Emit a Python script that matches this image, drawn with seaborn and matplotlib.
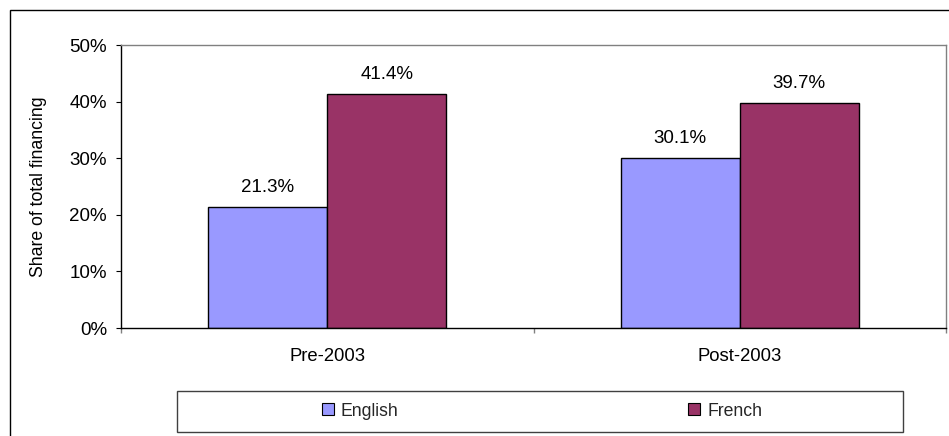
import matplotlib
matplotlib.use("Agg")
import matplotlib.pyplot as plt
from matplotlib.patches import Rectangle, Patch
from matplotlib.ticker import FuncFormatter, FixedLocator
import seaborn as sns
import pandas as pd

# Data
periods = ["Pre-2003", "Post-2003"]
origins = ["English", "French"]
english_share = [21.3, 30.1]
french_share = [41.4, 39.7]
colors = {"English": "#9999FF", "French": "#993366"}

df = pd.DataFrame({
    "period": periods * 2,
    "origin": ["English"] * len(periods) + ["French"] * len(periods),
    "share": english_share + french_share,
})

sns.set_theme(style="white")
plt.rcParams["font.family"] = ["Liberation Sans", "DejaVu Sans"]

fig = plt.figure(figsize=(9.49, 4.36), dpi=100)
ax = fig.add_axes([121 / 949, 1 - 328 / 436, (946 - 121) / 949, (328 - 45) / 436])

sns.barplot(data=df, x="period", y="share", hue="origin", order=periods,
            hue_order=origins, palette=colors, saturation=1, width=0.577, gap=0,
            edgecolor="black", linewidth=1.0, ax=ax, legend=False)

# Value labels above each bar
for container, vals in zip(ax.containers, [english_share, french_share]):
    for bar, v in zip(container, vals):
        ax.annotate(f"{v:.1f}%", (bar.get_x() + bar.get_width() / 2, v),
                    xytext=(0, 10.8), textcoords="offset points",
                    ha="center", va="baseline", fontsize=13.5, color="black")

ax.set_ylim(0, 50)
ax.set_xlim(-0.5, 1.5)
ax.yaxis.set_major_locator(FixedLocator([0, 10, 20, 30, 40, 50]))
ax.yaxis.set_major_formatter(FuncFormatter(lambda v, p: f"{v:.0f}%"))
ax.tick_params(axis="y", which="major", left=True, length=3.6, width=0.8,
               color="black", pad=6.5, labelsize=13.5, labelcolor="black")
ax.tick_params(axis="x", which="major", length=0, pad=14.5, labelsize=13.3,
               labelcolor="black")
ax.xaxis.set_minor_locator(FixedLocator([-0.5, 0.5, 1.5]))
ax.tick_params(axis="x", which="minor", bottom=True, length=3.6, width=1.0,
               color="#808080")

ax.set_xlabel("")
ax.set_ylabel("Share of total financing", fontsize=12.7, color="black", labelpad=16)

for side in ["left", "bottom"]:
    ax.spines[side].set_color("black")
    ax.spines[side].set_linewidth(1.0)
for side in ["top", "right"]:
    ax.spines[side].set_color("#808080")
    ax.spines[side].set_linewidth(1.0)
ax.grid(False)

# Outer chart frame
fig.patches.append(Rectangle((10 / 949, -0.2), 1.1, 1.2 - 10 / 436,
                             transform=fig.transFigure, fill=False,
                             edgecolor="black", linewidth=1.0))

# Legend box
fig.patches.append(Rectangle((177 / 949, 1 - 432 / 436), (903 - 177) / 949, 41 / 436,
                             transform=fig.transFigure, fill=False,
                             edgecolor="#404040", linewidth=1.0))
handles = [Patch(facecolor=colors[o], edgecolor="black", linewidth=0.8) for o in origins]
fig.legend(handles, origins, loc="center", bbox_to_anchor=(542 / 949, 1 - 411 / 436),
           ncol=2, frameon=False, fontsize=12.7, handlelength=0.68,
           handleheight=0.68, handletextpad=0.4, columnspacing=16.4)

fig.savefig("out.png", dpi=100)
